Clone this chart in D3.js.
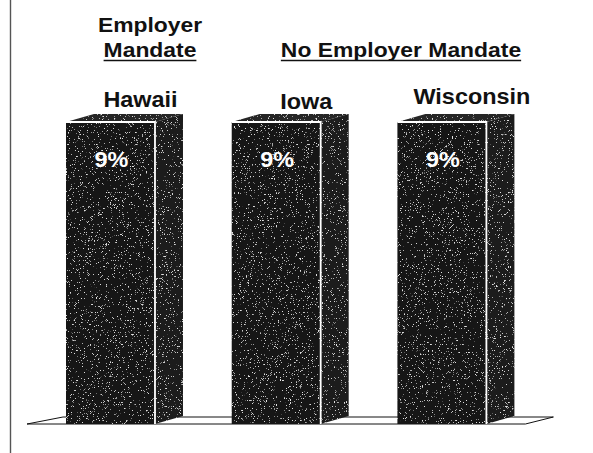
<!DOCTYPE html>
<html><head><meta charset="utf-8">
<script src="https://cdn.jsdelivr.net/npm/d3@7"></script>
<style>html,body{margin:0;padding:0;background:#fff;}svg{display:block;}</style>
</head><body>
<svg id="chart" width="593" height="453"></svg>
<script>
const states = ["Hawaii", "Iowa", "Wisconsin"];
const values = [9, 9, 9];
const valueLabels = ["9%", "9%", "9%"];
const groupTitles = [
  {lines: ["Employer", "Mandate"], underline: 1},
  {lines: ["No Employer Mandate"], underline: 0}
];

const svg = d3.select("#chart");
const defs = svg.append("defs");
const f = defs.append("filter").attr("id", "grain").attr("x", 0).attr("y", 0).attr("width", 1).attr("height", 1);
f.append("feTurbulence").attr("type", "fractalNoise").attr("baseFrequency", 1.5).attr("numOctaves", 2).attr("seed", 11).attr("result", "n");
f.append("feColorMatrix").attr("in", "n").attr("type", "matrix")
  .attr("values", "0 0 0 0 0.75  0 0 0 0 0.75  0 0 0 0 0.75  14 0 0 0 -9.4").attr("result", "dots");
f.append("feComposite").attr("in", "dots").attr("in2", "SourceGraphic").attr("operator", "in").attr("result", "clipped");
const m = f.append("feMerge");
m.append("feMergeNode").attr("in", "SourceGraphic");
m.append("feMergeNode").attr("in", "clipped");

const font = "'Liberation Sans', Arial, sans-serif";
const sx = 1.09; // horizontal stretch of the scanned lettering
const x = d3.scaleBand().domain(states).range([66, 486.4]).paddingInner(0.463).paddingOuter(0);
const y = d3.scaleLinear().domain([0, 9]).range([424, 122]);
const bw = x.bandwidth();
const dx = 28, dy = -8;

function label(parent, cx, by, txt, size, fill) {
  return parent.append("text")
    .attr("transform", `translate(${cx},${by}) scale(${sx},1)`)
    .attr("text-anchor", "middle")
    .attr("font-family", font).attr("font-weight", "bold").attr("font-size", size).attr("fill", fill)
    .text(txt);
}

svg.append("line").attr("x1", 10.5).attr("x2", 10.5).attr("y1", 0).attr("y2", 453)
  .attr("stroke", "#555").attr("stroke-width", 1.4);

const fl = x(states[0]) - 39, fr = x(states[2]) + bw + 39, fy = y(0);
svg.append("polygon")
  .attr("points", [[fl, fy], [fr, fy], [fr + 28, fy - 7], [fl + 36, fy - 7]].map(p => p.join(",")).join(" "))
  .attr("fill", "#fff").attr("stroke", "#111").attr("stroke-width", 1);

const g = svg.append("g").selectAll("g").data(states).join("g");
g.each(function(s, i) {
  const gg = d3.select(this);
  const x0 = x(s), x1 = x0 + bw, yt = y(values[i]), yb = y(0);
  gg.append("polygon")
    .attr("points", [[x1, yb], [x1 + dx, yb + dy], [x1 + dx, yt + dy], [x1, yt]].map(p => p.join(",")).join(" "))
    .attr("fill", "#1c1c1c").attr("filter", "url(#grain)");
  gg.append("polygon")
    .attr("points", [[x0, yt], [x1, yt], [x1 + dx, yt + dy], [x0 + dx, yt + dy]].map(p => p.join(",")).join(" "))
    .attr("fill", "#262626").attr("filter", "url(#grain)");
  gg.append("rect").attr("x", x0).attr("y", yt).attr("width", bw).attr("height", yb - yt)
    .attr("fill", "#151515").attr("filter", "url(#grain)");
  gg.append("polyline").attr("points", [[x0, yt], [x1, yt], [x1, yb]].map(p => p.join(",")).join(" "))
    .attr("fill", "none").attr("stroke", "#fff").attr("stroke-width", 1.8);
  label(gg, x0 + bw * 0.5 + 1, yt + 45, valueLabels[i], 21.5, "#fff");
  label(gg, x0 + bw * 0.5 + 30, [107, 109, 104][i], s, 21.5, "#111");
});

const titleX = [150, 401];
const titleY = [[32, 57], [57]];
groupTitles.forEach((t, i) => {
  t.lines.forEach((ln, j) => {
    const tx = label(svg, titleX[i], titleY[i][j], ln, 21, "#111");
    if (j === t.underline) {
      const w = tx.node().getComputedTextLength() * sx;
      svg.append("line").attr("x1", titleX[i] - w / 2).attr("x2", titleX[i] + w / 2)
        .attr("y1", titleY[i][j] + 3.5).attr("y2", titleY[i][j] + 3.5).attr("stroke", "#111").attr("stroke-width", 1.5);
    }
  });
});
</script>
</body></html>
